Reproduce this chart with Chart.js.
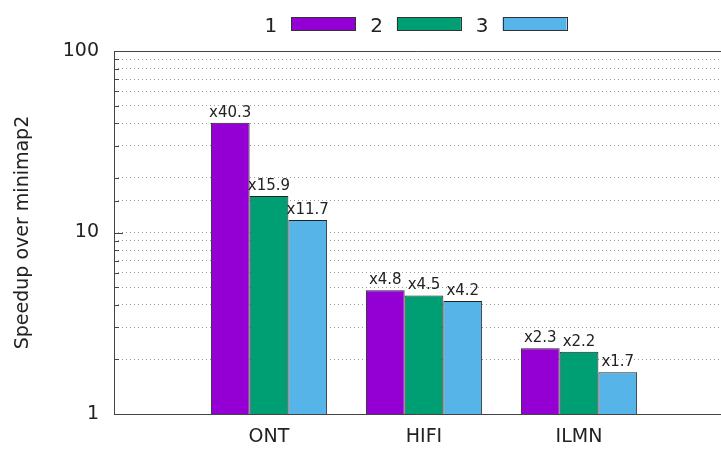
<!DOCTYPE html>
<html>
<head>
<meta charset="utf-8">
<script src="https://cdn.jsdelivr.net/npm/chart.js@4.4.1/dist/chart.umd.min.js"></script>
<style>
  html, body { margin: 0; padding: 0; background: #fff; }
</style>
</head>
<body>
<canvas id="speedupChart" width="721" height="450"></canvas>
<script>
const categories = ["ONT", "HIFI", "ILMN"];
const seriesNames = ["1", "2", "3"];
const series1 = [40.3, 4.8, 2.3];
const series2 = [15.9, 4.5, 2.2];
const series3 = [11.7, 4.2, 1.7];
const yTickLabels = [1, 10, 100];
const seriesColors = ["#9400d3", "#009e73", "#56b4e9"];

const fontFamily = "'DejaVu Sans', sans-serif";
const textColor = "#222";
const frameColor = "#444";

// x range: one empty slot before ONT, plot cut off on the right
const xMin = -1;
const xMax = 2.916;

const toPoints = (values) => values.map((v, i) => ({ x: i, y: v }));

// frame, inward tick marks, value labels and the "text then box" legend
const gnuplotLook = {
  id: "gnuplotLook",
  afterDatasetsDraw(chart) {
    const { ctx, chartArea: area, scales } = chart;
    const y = scales.y;
    ctx.save();
    ctx.strokeStyle = frameColor;
    ctx.lineWidth = 1;
    ctx.setLineDash([]);

    y.ticks.forEach((t) => {
      const py = Math.round(y.getPixelForValue(t.value)) + 0.5;
      const len = yTickLabels.includes(t.value) ? 9 : 5;
      ctx.beginPath();
      ctx.moveTo(area.left, py);
      ctx.lineTo(area.left + len, py);
      ctx.stroke();
    });

    const l = Math.round(area.left) + 0.5;
    const t = Math.round(area.top) + 0.5;
    const b = Math.round(area.bottom) + 0.5;
    ctx.beginPath();
    ctx.moveTo(area.right, t);
    ctx.lineTo(l, t);
    ctx.lineTo(l, b);
    ctx.lineTo(area.right, b);
    ctx.stroke();

    ctx.fillStyle = textColor;
    ctx.font = "15px " + fontFamily;
    ctx.textAlign = "center";
    ctx.textBaseline = "alphabetic";
    chart.data.datasets.forEach((ds, i) => {
      chart.getDatasetMeta(i).data.forEach((bar, j) => {
        ctx.fillText("x" + ds.data[j].y, bar.x, bar.y - 6);
      });
    });
    ctx.restore();
  },
  afterDraw(chart) {
    const { ctx, chartArea: area } = chart;
    ctx.save();
    ctx.font = "20px " + fontFamily;
    ctx.textBaseline = "alphabetic";
    ctx.textAlign = "left";
    const boxW = 64, boxH = 13, gapText = 14, gapItem = 15;
    const items = chart.data.datasets.map((ds) => ({
      label: ds.label,
      color: ds.backgroundColor,
      w: ctx.measureText(ds.label).width,
    }));
    const total = items.reduce((s, it) => s + it.w + gapText + boxW, 0) + gapItem * (items.length - 1);
    let x = (area.left + area.right) / 2 - 2 - total / 2;
    items.forEach((it) => {
      ctx.fillStyle = textColor;
      ctx.fillText(it.label, x, 32);
      x += it.w + gapText;
      ctx.fillStyle = it.color;
      ctx.fillRect(x, 17.5, boxW, boxH);
      ctx.strokeStyle = "#333";
      ctx.lineWidth = 1;
      ctx.strokeRect(Math.round(x) + 0.5, 17.5, boxW, boxH);
      x += boxW + gapItem;
    });
    ctx.restore();
  },
};

const datasets = [series1, series2, series3].map((values, i) => ({
  label: seriesNames[i],
  data: toPoints(values),
  backgroundColor: seriesColors[i],
  borderColor: "#222",
  borderWidth: 1,
  borderSkipped: "start",
  categoryPercentage: 0.75,
  barPercentage: 1.0,
}));

new Chart(document.getElementById("speedupChart"), {
  type: "bar",
  data: { datasets },
  plugins: [gnuplotLook],
  options: {
    responsive: false,
    animation: false,
    layout: { padding: { top: 51, right: 0, left: 0, bottom: 0 } },
    plugins: {
      legend: { display: false },
      tooltip: { enabled: false },
    },
    scales: {
      x: {
        type: "linear",
        offset: false,
        min: xMin,
        max: xMax,
        afterBuildTicks: (scale) => {
          scale.ticks = categories.map((c, i) => ({ value: i }));
        },
        afterFit: (scale) => {
          scale.height = 36;
        },
        grid: { display: false, drawTicks: false, offset: false },
        border: { display: false },
        ticks: {
          autoSkip: false,
          maxRotation: 0,
          padding: 12,
          color: textColor,
          font: { family: fontFamily, size: 19 },
          callback: (value) => categories[value] ?? "",
        },
      },
      y: {
        type: "logarithmic",
        min: 1,
        max: 100,
        afterFit: (scale) => {
          scale.width = 114;
        },
        grid: {
          color: "#9a9a9a",
          lineWidth: 1,
          drawTicks: false,
        },
        border: { display: false, dash: [1, 3] },
        title: {
          display: true,
          text: "Speedup over minimap2",
          color: textColor,
          font: { family: fontFamily, size: 19 },
          padding: { top: 12, bottom: 0 },
        },
        ticks: {
          autoSkip: false,
          padding: 15,
          color: textColor,
          font: { family: fontFamily, size: 19 },
          callback: (value) => (yTickLabels.includes(value) ? String(value) : ""),
        },
      },
    },
  },
});
</script>
</body>
</html>
